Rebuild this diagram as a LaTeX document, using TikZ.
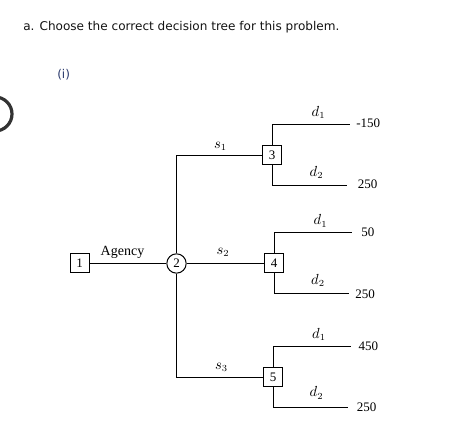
\documentclass[tikz,border=0pt]{standalone}
\usepackage{fontspec}
\setmainfont{Liberation Serif}
\newfontfamily\uifont{DejaVu Sans}
\definecolor{uitext}{RGB}{20,20,20}
\definecolor{uiblue}{RGB}{45,60,110}
\definecolor{radio}{RGB}{51,51,51}
\begin{document}
\begin{tikzpicture}[x=0.75pt,y=-0.75pt,
  treeline/.style={line width=0.75pt,black},
  dbox/.style={draw,line width=0.75pt,minimum size=14.25pt,inner sep=0pt,font=\fontsize{9.75}{11}\selectfont},
  chance/.style={draw,circle,line width=0.75pt,minimum size=14.5pt,inner sep=0pt,font=\fontsize{9.75}{11}\selectfont},
  lbl/.style={inner sep=0pt,font=\fontsize{10.5}{12}\selectfont},
  payoff/.style={anchor=west,inner sep=0pt,font=\fontsize{9.75}{11}\selectfont}]
\useasboundingbox (0,0) rectangle (454,434);
\fill[white] (0,0) rectangle (454,434);
\begin{scope}
\clip (0,0) rectangle (454,434);
\draw[radio,line width=2.4pt] (-5,114) circle (17);
\end{scope}
\node[anchor=west,inner sep=0pt,text=uitext,font=\uifont\fontsize{9.05}{11}\selectfont] (title) at (23,27) {a. Choose the correct decision tree for this problem.};
\node[anchor=west,inner sep=0pt,text=uiblue,font=\uifont\fontsize{9.05}{11}\selectfont] (part) at (57,75) {(i)};
% nodes
\node[dbox] (b1) at (79.7,263.5) {1};
\node[chance] (c2) at (176.5,263.5) {2};
\node[dbox] (b3) at (272,155.5) {3};
\node[dbox] (b4) at (274,263.5) {4};
\node[dbox] (b5) at (273,377.5) {5};
% leaf ends
\coordinate (l1) at (350,124.3);
\coordinate (l2) at (347,185.3);
\coordinate (l3) at (352,232.7);
\coordinate (l4) at (349,293.3);
\coordinate (l5) at (351,346.7);
\coordinate (l6) at (348,407.3);
% connectors
\draw[treeline] (b1) -- (c2);
\draw[treeline] (c2.north) |- (b3.west);
\draw[treeline] (c2) -- (b4);
\draw[treeline] (c2.south) |- (b5.west);
\draw[treeline] (b3.north) |- (l1);
\draw[treeline] (b3.south) |- (l2);
\draw[treeline] (b4.north) |- (l3);
\draw[treeline] (b4.south) |- (l4);
\draw[treeline] (b5.north) |- (l5);
\draw[treeline] (b5.south) |- (l6);
% labels
\node[lbl] (agency) at (122.5,252.5) {Agency};
\node[lbl] (s1) at (220.5,146) {$s_1$};
\node[lbl] (s2) at (223,252) {$s_2$};
\node[lbl] (s3) at (221.5,367.5) {$s_3$};
\node[lbl] (d11) at (318.5,112.5) {$d_1$};
\node[lbl] (d12) at (316.5,172.5) {$d_2$};
\node[lbl] (d21) at (320.5,221) {$d_1$};
\node[lbl] (d22) at (318,280.5) {$d_2$};
\node[lbl] (d31) at (319,334.5) {$d_1$};
\node[lbl] (d32) at (316.5,393) {$d_2$};
\node[payoff] (v1) at (356,123) {-150};
\node[payoff] (v2) at (357.7,184.5) {250};
\node[payoff] (v3) at (361,232) {50};
\node[payoff] (v4) at (355,294.5) {250};
\node[payoff] (v5) at (358.3,346.5) {450};
\node[payoff] (v6) at (356.7,407) {250};
\end{tikzpicture}
\end{document}
